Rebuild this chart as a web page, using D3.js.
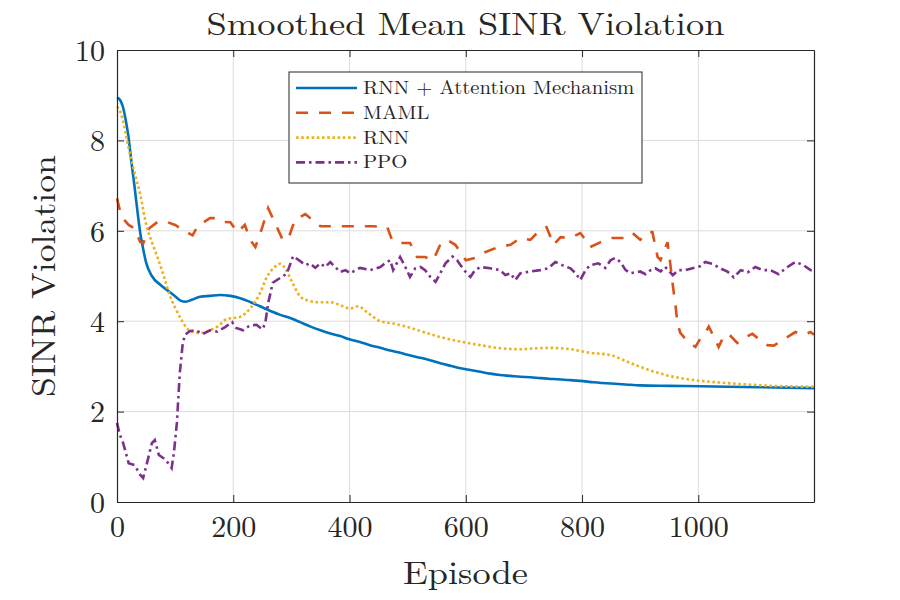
<!DOCTYPE html>
<html>
<head>
<meta charset="utf-8">
<script src="https://cdn.jsdelivr.net/npm/d3@7"></script>
<style>
  body { margin: 0; background: #fff; }
  text { font-family: "Latin Modern Roman", "CMU Serif", "Liberation Serif", serif; fill: #262626; }
</style>
</head>
<body>
<div id="chart"></div>
<script>
// values, [episode, SINR violation]
const attentionData = [[0,8.95],[5,8.9],[10,8.75],[15,8.45],[20,8.05],[25,7.5],[30,7.0],[35,6.45],[40,5.95],[45,5.6],[50,5.3],[60,5.0],[75,4.8],[90,4.65],[100,4.55],[110,4.45],[118,4.43],[130,4.48],[143,4.54],[160,4.56],[177,4.58],[195,4.56],[212,4.51],[230,4.42],[246,4.33],[265,4.22],[281,4.14],[300,4.06],[315,3.98],[333,3.88],[350,3.8],[367,3.73],[384,3.67],[400,3.6],[418,3.54],[435,3.47],[453,3.41],[470,3.35],[487,3.3],[505,3.24],[522,3.19],[540,3.13],[556,3.07],[575,3.01],[591,2.96],[608,2.92],[625,2.88],[642,2.84],[659,2.81],[677,2.79],[694,2.77],[711,2.76],[728,2.74],[750,2.72],[775,2.7],[797,2.68],[820,2.65],[850,2.62],[875,2.6],[900,2.58],[950,2.57],[1004,2.56],[1050,2.55],[1107,2.54],[1150,2.53],[1199,2.52]];

const mamlData = [[0,6.72],[5,6.45],[10,6.28],[20,6.13],[30,6.05],[40,5.75],[45,5.72],[55,6.05],[70,6.2],[85,6.2],[100,6.13],[110,6.05],[120,5.97],[130,5.9],[140,6.13],[150,6.2],[160,6.28],[169,6.28],[180,6.2],[195,6.19],[207,5.97],[220,6.13],[229,5.8],[238,5.64],[250,6.08],[260,6.5],[272,6.17],[284,5.83],[294,5.8],[306,6.24],[324,6.37],[341,6.19],[350,6.1],[400,6.1],[440,6.1],[465,6.08],[473,5.8],[487,5.73],[504,5.73],[516,5.42],[530,5.42],[544,5.35],[556,5.69],[568,5.8],[582,5.69],[600,5.35],[616,5.4],[634,5.53],[656,5.64],[677,5.69],[694,5.84],[711,5.8],[728,6.02],[739,6.08],[751,5.69],[763,5.86],[780,5.84],[797,5.95],[806,5.8],[814,5.64],[832,5.75],[852,5.84],[875,5.84],[887,5.95],[900,5.8],[914,5.97],[921,5.97],[930,5.42],[935,5.35],[947,5.75],[951,5.35],[955,4.91],[961,4.32],[964,3.96],[969,3.74],[981,3.56],[995,3.43],[1004,3.63],[1012,3.74],[1018,3.88],[1027,3.65],[1035,3.43],[1043,3.65],[1052,3.72],[1067,3.52],[1078,3.63],[1093,3.72],[1107,3.58],[1119,3.47],[1130,3.46],[1141,3.55],[1153,3.65],[1167,3.76],[1181,3.7],[1193,3.76],[1199,3.7]];

const rnnData = [[0,8.75],[5,8.65],[10,8.45],[15,8.15],[20,7.83],[30,7.3],[40,6.8],[50,6.15],[60,5.75],[70,5.4],[80,5.02],[90,4.6],[100,4.3],[110,4.05],[120,3.85],[130,3.76],[145,3.74],[160,3.8],[175,3.9],[189,4.05],[200,4.07],[212,4.1],[229,4.28],[246,4.62],[258,4.98],[269,5.17],[281,5.27],[290,5.15],[300,4.9],[315,4.55],[330,4.45],[345,4.42],[367,4.42],[385,4.35],[401,4.28],[415,4.33],[430,4.2],[453,4.0],[475,3.95],[500,3.87],[530,3.75],[556,3.65],[590,3.55],[625,3.47],[660,3.4],[694,3.38],[720,3.4],[745,3.41],[780,3.38],[814,3.3],[849,3.25],[875,3.12],[900,2.99],[920,2.9],[943,2.81],[970,2.74],[1004,2.68],[1040,2.64],[1073,2.61],[1110,2.58],[1150,2.56],[1199,2.55]];

const ppoData = [[0,1.75],[5,1.48],[10,1.33],[15,1.1],[20,0.86],[30,0.82],[40,0.6],[45,0.53],[55,1.04],[60,1.3],[65,1.37],[72,1.04],[80,0.97],[88,0.86],[94,0.75],[98,1.1],[103,1.75],[108,2.85],[113,3.5],[117,3.7],[125,3.78],[135,3.8],[148,3.72],[160,3.8],[172,3.77],[186,3.87],[198,3.98],[205,3.85],[217,3.8],[228,3.9],[240,3.92],[250,3.82],[255,3.95],[260,4.4],[268,4.85],[281,4.96],[292,5.05],[303,5.44],[315,5.33],[324,5.24],[332,5.28],[341,5.18],[350,5.28],[358,5.2],[367,5.31],[375,5.2],[384,5.09],[393,5.13],[401,5.06],[418,5.18],[436,5.13],[453,5.2],[461,5.28],[470,5.35],[475,5.13],[487,5.42],[496,5.2],[504,4.98],[513,5.17],[522,5.2],[530,5.13],[539,4.98],[548,4.87],[556,5.06],[565,5.28],[577,5.43],[585,5.35],[591,5.24],[599,5.1],[608,4.98],[616,5.13],[625,5.2],[642,5.17],[659,5.13],[668,5.02],[677,5.06],[685,4.91],[694,5.06],[711,5.1],[728,5.13],[742,5.17],[754,5.31],[766,5.24],[780,5.17],[789,5.06],[797,4.91],[806,5.13],[814,5.24],[828,5.28],[840,5.18],[849,5.35],[857,5.4],[866,5.31],[875,5.13],[883,5.06],[900,5.1],[909,5.04],[918,5.13],[926,5.17],[935,5.1],[943,5.2],[956,5.02],[966,5.13],[978,5.13],[990,5.17],[1004,5.22],[1012,5.31],[1024,5.27],[1038,5.17],[1050,5.1],[1061,4.97],[1073,5.13],[1085,5.08],[1098,5.2],[1111,5.13],[1124,5.13],[1138,5.04],[1150,5.17],[1167,5.31],[1181,5.24],[1193,5.13],[1199,5.1]];

const seriesNames = ["RNN + Attention Mechanism", "MAML", "RNN", "PPO"];
const xTicks = [0, 200, 400, 600, 800, 1000];
const yTicks = [0, 2, 4, 6, 8, 10];

const series = [
    {name: seriesNames[0], data: attentionData, color: "#0072BD", dash: null, curve: d3.curveMonotoneX},
    {name: seriesNames[1], data: mamlData, color: "#D95319", dash: "12,11", curve: d3.curveLinear},
    {name: seriesNames[2], data: rnnData, color: "#EDB120", dash: "2.6,2.6", curve: d3.curveMonotoneX},
    {name: seriesNames[3], data: ppoData, color: "#7E2F8E", dash: "9,4,2.5,4", curve: d3.curveLinear}
];

const margin = {top: 50, right: 86, bottom: 98, left: 117};
const width = 900 - margin.left - margin.right;
const height = 600 - margin.top - margin.bottom;

const svg = d3.select("#chart")
    .append("svg")
    .attr("width", 900)
    .attr("height", 600);

const g = svg.append("g")
    .attr("transform", `translate(${margin.left},${margin.top})`);

const x = d3.scaleLinear().domain([0, 1199]).range([0, width]);
const y = d3.scaleLinear().domain([0, 10]).range([height, 0]);

// grid
g.append("g").selectAll("line")
    .data(xTicks.slice(1))
    .join("line")
    .attr("x1", d => x(d)).attr("x2", d => x(d))
    .attr("y1", 0).attr("y2", height)
    .attr("stroke", "#dcdcdc").attr("stroke-width", 1);

g.append("g").selectAll("line")
    .data(yTicks.slice(1, -1))
    .join("line")
    .attr("y1", d => y(d)).attr("y2", d => y(d))
    .attr("x1", 0).attr("x2", width)
    .attr("stroke", "#dcdcdc").attr("stroke-width", 1);

// lines
const line = d3.line().x(d => x(d[0])).y(d => y(d[1]));

series.forEach(s => {
    g.append("path")
        .datum(s.data)
        .attr("fill", "none")
        .attr("stroke", s.color)
        .attr("stroke-width", 2.6)
        .attr("stroke-dasharray", s.dash)
        .attr("d", line.curve(s.curve));
});

// axes (MATLAB style: inward ticks on all four sides)
const tickLen = 7;
const xAxis = g.append("g")
    .attr("transform", `translate(0,${height})`)
    .call(d3.axisBottom(x).tickValues(xTicks).tickFormat(d3.format("d"))
        .tickSizeInner(-tickLen).tickSizeOuter(0).tickPadding(14));
const yAxis = g.append("g")
    .call(d3.axisLeft(y).tickValues(yTicks).tickSizeInner(-tickLen).tickSizeOuter(0).tickPadding(12));
g.append("g")
    .call(d3.axisTop(x).tickValues(xTicks).tickSizeInner(-tickLen).tickSizeOuter(0).tickFormat(""));
g.append("g")
    .attr("transform", `translate(${width},0)`)
    .call(d3.axisRight(y).tickValues(yTicks).tickSizeInner(-tickLen).tickSizeOuter(0).tickFormat(""));

g.selectAll(".domain").attr("stroke", "#262626").attr("stroke-width", 1.2);
g.selectAll(".tick line").attr("stroke", "#262626");
g.selectAll(".tick text")
    .style("font-size", "30px")
    .attr("fill", "#262626");
yAxis.selectAll(".tick text").attr("dy", "0.34em");

// titles
svg.append("text")
    .attr("x", margin.left + width / 2)
    .attr("y", 35)
    .attr("text-anchor", "middle")
    .attr("textLength", 518)
    .attr("lengthAdjust", "spacingAndGlyphs")
    .style("font-size", "32px")
    .text("Smoothed Mean SINR Violation");

svg.append("text")
    .attr("x", margin.left + width / 2)
    .attr("y", 584)
    .attr("text-anchor", "middle")
    .attr("textLength", 125)
    .attr("lengthAdjust", "spacingAndGlyphs")
    .style("font-size", "33px")
    .text("Episode");

svg.append("text")
    .attr("transform", `translate(55,${margin.top + height / 2}) rotate(-90)`)
    .attr("text-anchor", "middle")
    .attr("textLength", 242)
    .attr("lengthAdjust", "spacingAndGlyphs")
    .style("font-size", "33px")
    .text("SINR Violation");

// legend
const legend = svg.append("g").attr("transform", "translate(289,72)");
legend.append("rect")
    .attr("width", 353).attr("height", 111)
    .attr("fill", "#fff").attr("stroke", "#262626").attr("stroke-width", 1);

series.forEach((s, i) => {
    const ly = 16 + i * 24.8;
    legend.append("line")
        .attr("x1", 7).attr("x2", 68)
        .attr("y1", ly).attr("y2", ly)
        .attr("stroke", s.color)
        .attr("stroke-width", 2.6)
        .attr("stroke-dasharray", s.dash);
    const t = legend.append("text")
        .attr("x", 74).attr("y", ly + 6)
        .style("font-size", "19px")
        .text(s.name);
    // the LaTeX font is wider than the fallback serif
    const w = t.node().getComputedTextLength();
    t.attr("textLength", w * 1.09).attr("lengthAdjust", "spacingAndGlyphs");
});
</script>
</body>
</html>
